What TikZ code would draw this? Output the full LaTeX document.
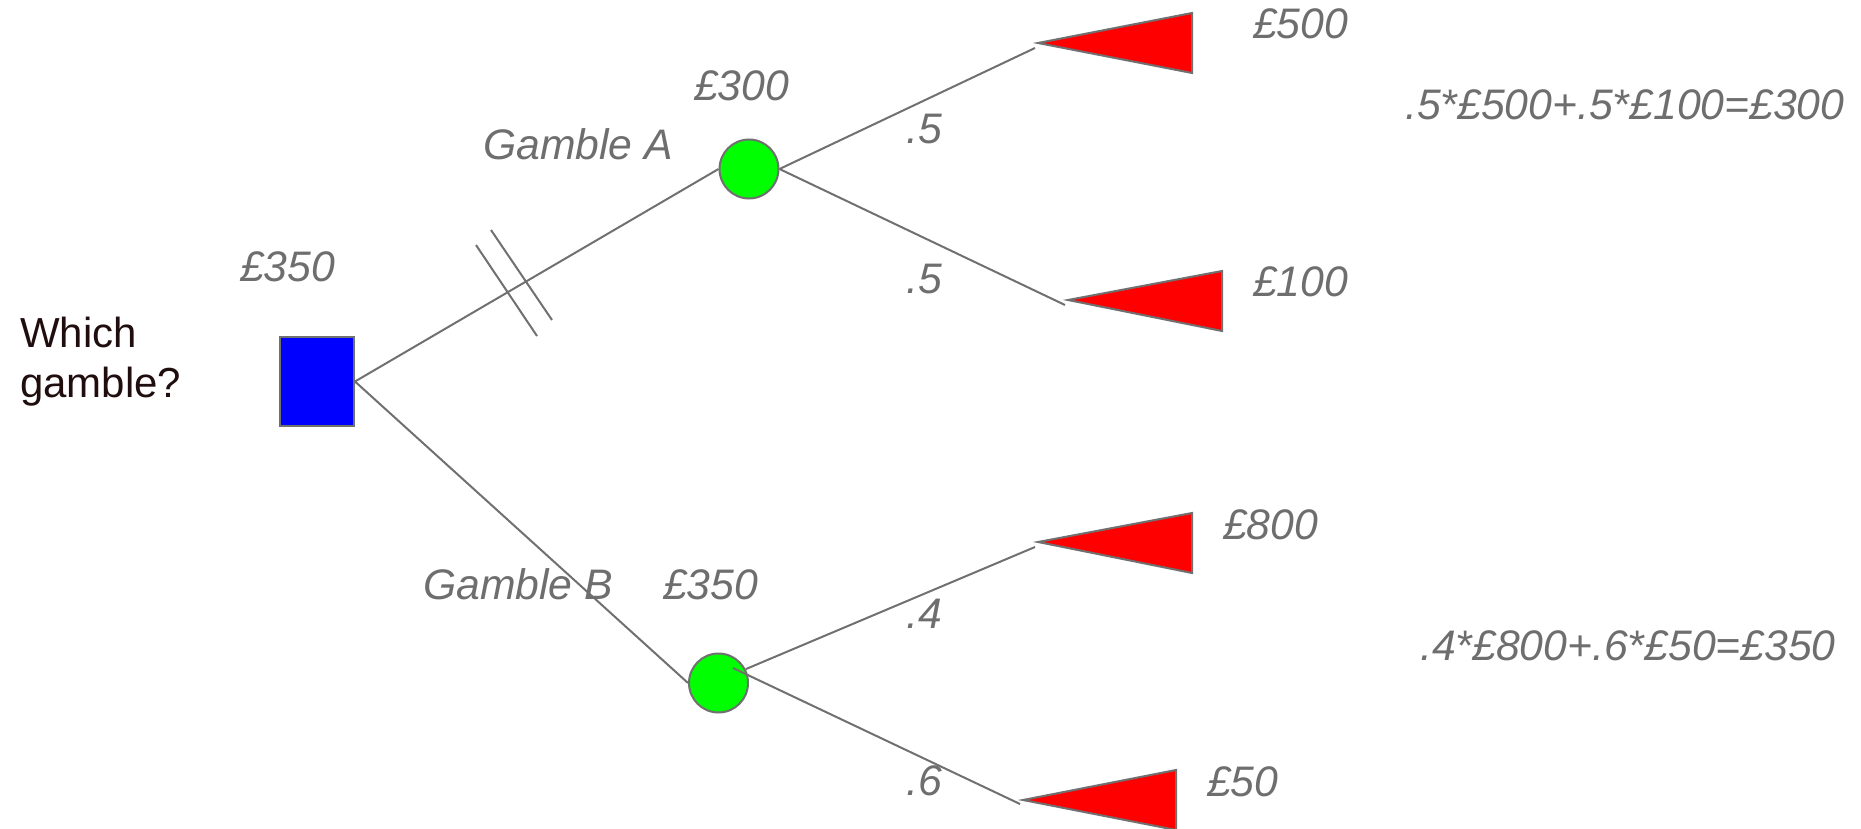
\documentclass[tikz,border=0pt]{standalone}
\usepackage{fontspec}
\setmainfont{Liberation Sans}
\usetikzlibrary{calc}
\definecolor{lgray}{RGB}{112,112,112}
\definecolor{tgray}{RGB}{110,110,110}
\definecolor{tdark}{RGB}{32,14,14}
\definecolor{gfill}{RGB}{0,255,0}
\definecolor{bfill}{RGB}{0,0,255}
\definecolor{rfill}{RGB}{255,0,0}
\begin{document}
\begin{tikzpicture}[x=1pt,y=-1pt,
  lbl/.style={anchor=base west, inner sep=0pt, text=tgray, font=\fontsize{42.7}{50}\selectfont\itshape},
  wq/.style={anchor=base west, inner sep=0pt, text=tdark, font=\fontsize{42}{50}\selectfont},
  conn/.style={draw=lgray, line width=2pt},
  chance/.style={circle, draw=lgray, line width=2pt, fill=gfill, minimum size=59pt, inner sep=0pt},
  decision/.style={rectangle, draw=lgray, line width=2pt, fill=bfill, minimum width=74pt, minimum height=89pt, inner sep=0pt},
  leaf/.style={draw=lgray, line width=2pt, fill=rfill, line join=miter}
]
\useasboundingbox (0,0) rectangle (1861,829);

% decision and chance nodes
\node[decision] (sq) at (317,381.5) {};
\node[chance] (cA) at (749,169) {};
\node[chance] (cB) at (718.5,683) {};

% terminal triangles
\coordinate (tA1) at (1038,43);
\coordinate (tA2) at (1068,300);
\coordinate (tB1) at (1038,542);
\coordinate (tB2) at (1023,800);
\draw[leaf] (tA1) -- (1192,13) -- (1192,73) -- cycle;
\draw[leaf] (tA2) -- (1222,271) -- (1222,331) -- cycle;
\draw[leaf] (tB1) -- (1192,513) -- (1192,573) -- cycle;
\draw[leaf] (tB2) -- (1176,770) -- (1176,830) -- cycle;

% connector ends
\coordinate (eA1) at (1035,48);
\coordinate (eA2) at (1065,305);
\coordinate (eB1) at (1035,547);
\coordinate (eB2) at (1020,804);
\coordinate (cBin) at (733,668);

% connectors
\draw[conn] (sq.east) -- (cA.west);
\draw[conn] (sq.east) -- (cB.west);
\draw[conn] (cA.east) -- (eA1);
\draw[conn] (cA.east) -- (eA2);
\draw[conn] (cB.27) -- (eB1);
\draw[conn] (cBin) -- (eB2);

% hatch marks on the rejected branch
\draw[conn] (476,245) -- (537,336);
\draw[conn] (491,230) -- (552,320);

% texts
\node[wq] (w1) at (20,347) {Which};
\node[wq] (w2) at (20,397) {gamble?};
\node[lbl] (v0) at (240,281) {£350};
\node[lbl] (gA) at (483,160) {Gamble A};
\node[lbl] (vA) at (694,101) {£300};
\node[lbl] (pA1) at (906,144) {.5};
\node[lbl] (pA2) at (906,294) {.5};
\node[lbl] (oA1) at (1253,39) {£500};
\node[lbl] (oA2) at (1253,296) {£100};
\node[lbl] (fA) at (1405,120) {.5*£500+.5*£100=£300};
\node[lbl] (gB) at (423,599) {Gamble B};
\node[lbl] (vB) at (663,599) {£350};
\node[lbl] (pB1) at (906,628) {.4};
\node[lbl] (pB2) at (906,795) {.6};
\node[lbl] (oB1) at (1223,539) {£800};
\node[lbl] (oB2) at (1207,796) {£50};
\node[lbl] (fB) at (1420,660) {.4*£800+.6*£50=£350};
\end{tikzpicture}
\end{document}
